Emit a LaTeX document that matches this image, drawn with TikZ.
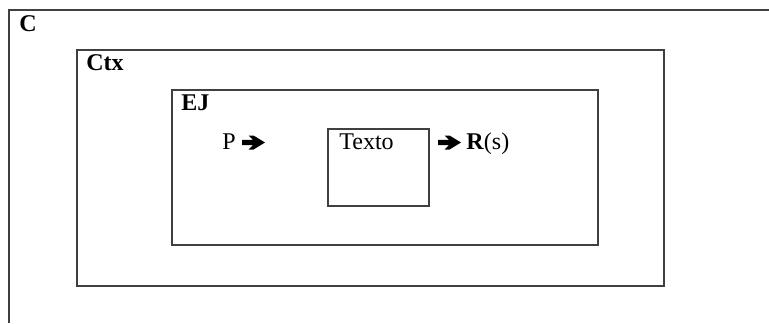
\documentclass[tikz,border=0pt]{standalone}
\usepackage{fontspec}
\setmainfont{Liberation Serif}
\begin{document}
\begin{tikzpicture}[x=0.5pt,y=-0.5pt,
  frame/.style={draw=black!75, line width=0.9pt},
  box/.style={frame, rectangle, inner sep=0pt, anchor=north west},
  lbl/.style={font=\fontsize{12}{14}\selectfont, inner sep=0pt, anchor=base west},
  head/.style={lbl, font=\fontsize{12}{14}\selectfont\bfseries},
  boldarrow/.pic={
    \fill[black] (0,-2.6) -- (11,-2.6) -- (6.5,-7) -- (11.5,-7) -- (23,0)
      -- (11.5,7) -- (6.5,7) -- (11,2.6) -- (0,2.6) -- cycle;
    \coordinate (-tip) at (23,0);
  }]
  \useasboundingbox (0,0) rectangle (769,323);
  % outermost frame, open to the right and bottom
  \coordinate (cTR) at (769,10);
  \coordinate (cTL) at (9,10);
  \coordinate (cBL) at (9,323);
  \draw[frame] (cTR) -- (cTL) -- (cBL);
  \node[head] (cLbl) at (19,31) {C};
  % context frame
  \node[box, minimum width=293.5pt, minimum height=118pt] (ctx) at (76,49) {};
  \node[head] (ctxLbl) at (86,70) {Ctx};
  % EJ frame
  \node[box, minimum width=213pt, minimum height=77.5pt] (ej) at (171,89) {};
  \node[head] (ejLbl) at (181,110) {EJ};
  % text box
  \node[box, minimum width=50.5pt, minimum height=38.5pt] (texto) at (327,128) {};
  \node[lbl] (textoLbl) at (339,149) {Texto};
  % input and output
  \node[lbl] (p) at (222,149) {P};
  \pic (pArr) at (242,142.5) {boldarrow};
  \pic (rArr) at (438,142.5) {boldarrow};
  \node[lbl] (r) at (466,149) {\textbf{R}(s)};
\end{tikzpicture}
\end{document}
